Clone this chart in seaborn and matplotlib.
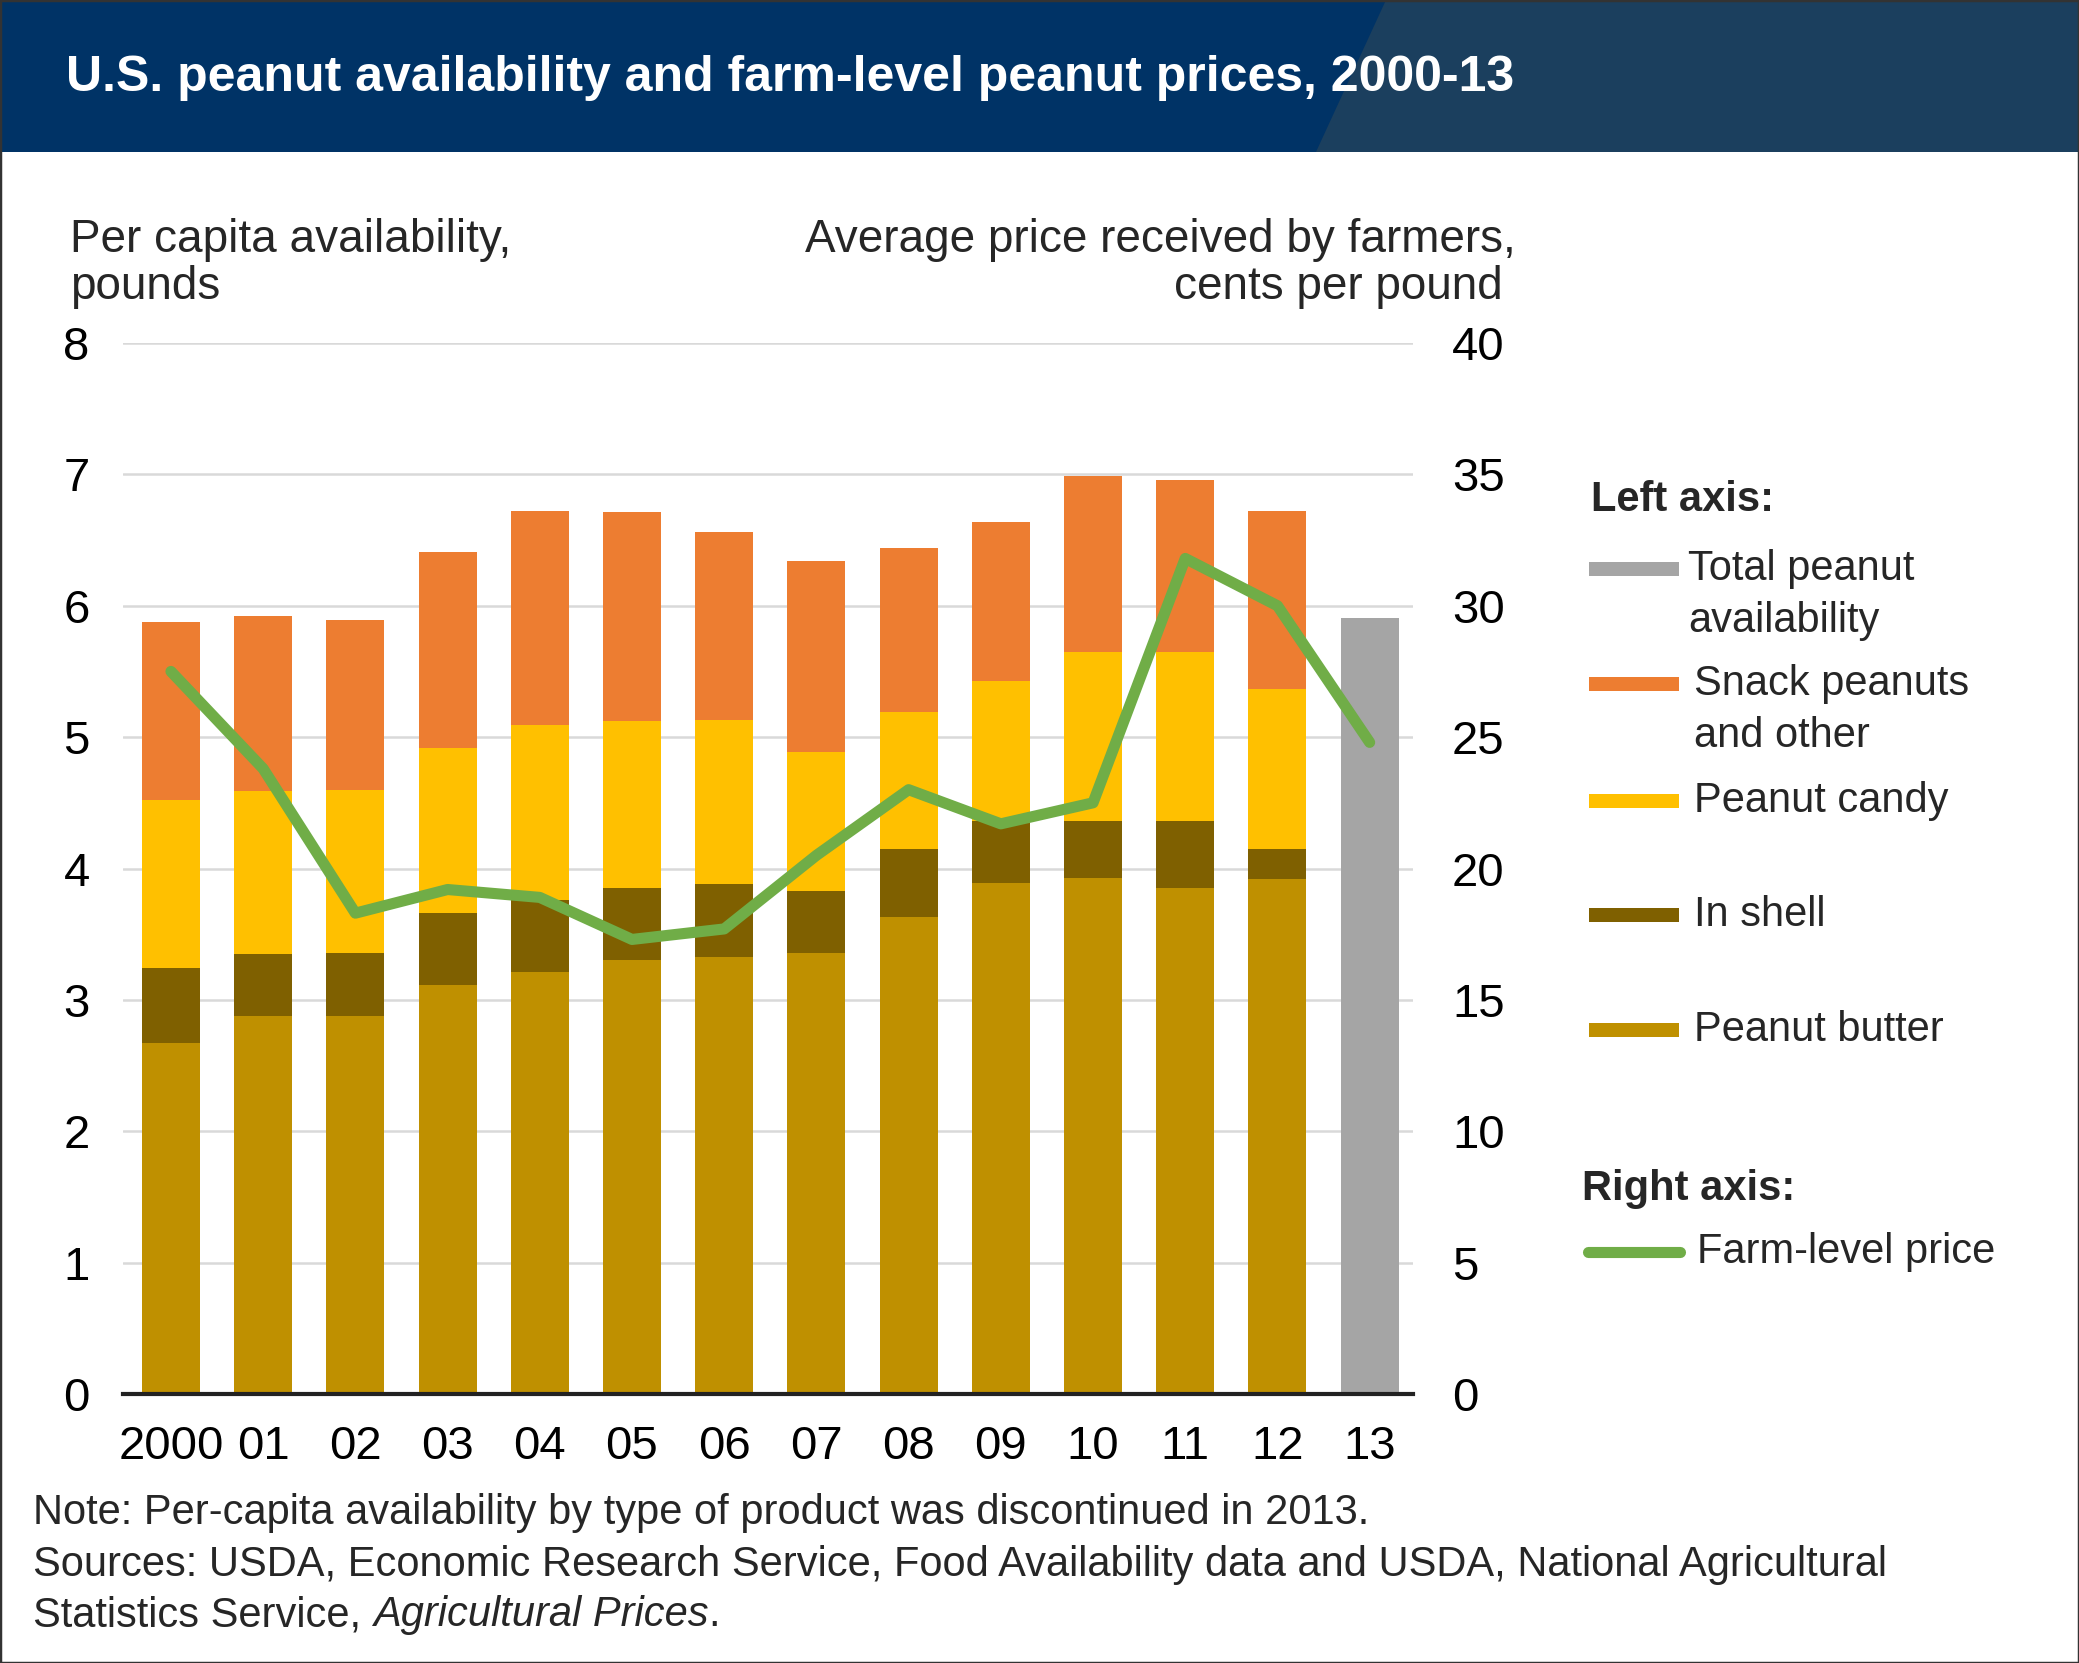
import numpy as np
import pandas as pd
import matplotlib
matplotlib.use("Agg")
import matplotlib.pyplot as plt
from matplotlib.patches import Rectangle, Polygon
from matplotlib.lines import Line2D
import seaborn as sns

# data
years = ["2000", "01", "02", "03", "04", "05", "06", "07", "08", "09", "10", "11", "12", "13"]
peanut_butter = [2.67, 2.88, 2.88, 3.11, 3.21, 3.30, 3.33, 3.36, 3.63, 3.89, 3.93, 3.85, 3.92, np.nan]
in_shell = [0.57, 0.47, 0.48, 0.55, 0.55, 0.55, 0.55, 0.47, 0.52, 0.47, 0.43, 0.51, 0.23, np.nan]
peanut_candy = [1.28, 1.24, 1.24, 1.26, 1.33, 1.27, 1.25, 1.06, 1.04, 1.07, 1.29, 1.29, 1.22, np.nan]
snack_other = [1.36, 1.33, 1.29, 1.49, 1.63, 1.59, 1.43, 1.45, 1.25, 1.21, 1.34, 1.31, 1.35, np.nan]
total_2013 = [np.nan] * 13 + [5.91]
farm_price = [27.5, 23.8, 18.3, 19.2, 18.9, 17.3, 17.7, 20.5, 23.0, 21.7, 22.5, 31.8, 30.0, 24.8]

df = pd.DataFrame({"year": years, "butter": peanut_butter, "shell": in_shell,
                   "candy": peanut_candy, "snack": snack_other, "total13": total_2013})
df["c_shell"] = df["butter"] + df["shell"]
df["c_candy"] = df["c_shell"] + df["candy"]
df["c_snack"] = df["c_candy"] + df["snack"]

C_BUTTER = "#BF9000"
C_SHELL = "#7F6000"
C_CANDY = "#FFC000"
C_SNACK = "#ED7D31"
C_TOTAL = "#A5A5A5"
C_PRICE = "#70AD47"

sns.set_theme(style="white")
plt.rcParams["font.family"] = ["Liberation Sans", "DejaVu Sans"]

W, H = 2079, 1663
fig = plt.figure(figsize=(W / 100, H / 100), dpi=100)
fig.patch.set_facecolor("white")

def fx(px):
    return px / W

def fy(py):
    return 1 - py / H

# header band
fig.patches.append(Rectangle((0, fy(152)), 1, 152 / H, transform=fig.transFigure,
                             facecolor="#003366", edgecolor="none", zorder=0))
fig.patches.append(Polygon([(fx(1386), 1), (1, 1), (1, fy(152)), (fx(1316), fy(152))],
                           closed=True, transform=fig.transFigure,
                           facecolor="#1B3F5E", edgecolor="none", zorder=0))
fig.patches.append(Rectangle((0, 0), 1, 1, transform=fig.transFigure, fill=False,
                             edgecolor="#333333", linewidth=2.5, zorder=5))
fig.text(fx(66), fy(78), "U.S. peanut availability and farm-level peanut prices, 2000-13",
         color="white", fontsize=36, fontweight="bold", va="center", ha="left")

ax = fig.add_axes([fx(123), fy(1394), fx(1413) - fx(123), fy(343) - fy(1394)])

order = years
for col, c in [("c_snack", C_SNACK), ("c_candy", C_CANDY), ("c_shell", C_SHELL),
               ("butter", C_BUTTER), ("total13", C_TOTAL)]:
    sns.barplot(data=df, x="year", y=col, order=order, color=c, saturation=1,
                width=0.63, edgecolor="none", linewidth=0, ax=ax, zorder=3)

ax.set_xlim(-0.52, 13.47)
ax.set_ylim(0, 8)
ax.set_yticks(range(0, 9))
ax.set_xlabel("")
ax.set_ylabel("")
ax.yaxis.grid(True, color="#D9D9D9", linewidth=1.8, zorder=0)
ax.set_axisbelow(True)
for s in ["top", "right", "left"]:
    ax.spines[s].set_visible(False)
ax.spines["bottom"].set_color("#222222")
ax.spines["bottom"].set_linewidth(3)
ax.spines["bottom"].set_zorder(6)
ax.tick_params(axis="y", length=0, pad=24, labelsize=34, labelcolor="black")
ax.tick_params(axis="x", length=0, pad=22, labelsize=34, labelcolor="black")

ax2 = ax.twinx()
sns.lineplot(x=np.arange(len(years)), y=farm_price, color=C_PRICE, linewidth=8,
             solid_capstyle="round", solid_joinstyle="round", ax=ax2, zorder=4)
ax2.set_ylim(0, 40)
ax2.set_yticks(range(0, 41, 5))
for s in ["top", "right", "left", "bottom"]:
    ax2.spines[s].set_visible(False)
ax2.tick_params(axis="y", length=0, pad=28, labelsize=34, labelcolor="black")
ax2.set_xlim(-0.52, 13.47)

# axis titles
at = 33
fig.text(fx(70), fy(240), "Per capita availability,", fontsize=at, va="center", ha="left")
fig.text(fx(70), fy(287), "pounds", fontsize=at, va="center", ha="left")
fig.text(fx(1516), fy(240), "Average price received by farmers,", fontsize=at,
         va="center", ha="right")
fig.text(fx(1503), fy(287), "cents per pound", fontsize=at, va="center", ha="right")

# legend
lg = 30
fig.text(fx(1591), fy(500), "Left axis:", fontsize=lg, fontweight="bold", va="center")
legend_items = [
    (C_TOTAL, 569, ["Total peanut", "availability"], 1688),
    (C_SNACK, 684, ["Snack peanuts", "and other"], 1694),
    (C_CANDY, 801, ["Peanut candy"], 1694),
    (C_SHELL, 915, ["In shell"], 1694),
    (C_BUTTER, 1030, ["Peanut butter"], 1694),
]
for c, yy, lines, tx in legend_items:
    fig.patches.append(Rectangle((fx(1589), fy(yy + 7)), 90 / W, 14 / H,
                                 transform=fig.transFigure, facecolor=c, edgecolor="none"))
    for i, t in enumerate(lines):
        fig.text(fx(tx), fy(yy + i * 52), t, fontsize=lg, va="center", ha="left")
fig.text(fx(1582), fy(1189), "Right axis:", fontsize=lg, fontweight="bold", va="center")
fig.lines.append(Line2D([fx(1588), fx(1680)], [fy(1252), fy(1252)], transform=fig.transFigure,
                        color=C_PRICE, linewidth=8, solid_capstyle="round"))
fig.text(fx(1697), fy(1252), "Farm-level price", fontsize=lg, va="center", ha="left")

# notes
nf = 30
fig.text(fx(33), fy(1513), "Note: Per-capita availability by type of product was discontinued in 2013.",
         fontsize=nf, va="center")
fig.text(fx(33), fy(1565), "Sources: USDA, Economic Research Service, Food Availability data and USDA, National Agricultural",
         fontsize=nf, va="center")
t1 = fig.text(fx(33), fy(1615), "Statistics Service, ", fontsize=nf, va="center")
fig.canvas.draw()
bb = t1.get_window_extent()
t2 = fig.text(bb.x1 / W, fy(1615), "Agricultural Prices", fontsize=nf, va="center",
              fontstyle="italic")
fig.canvas.draw()
bb2 = t2.get_window_extent()
fig.text(bb2.x1 / W, fy(1615), ".", fontsize=nf, va="center")

fig.savefig("out.png", dpi=100)
